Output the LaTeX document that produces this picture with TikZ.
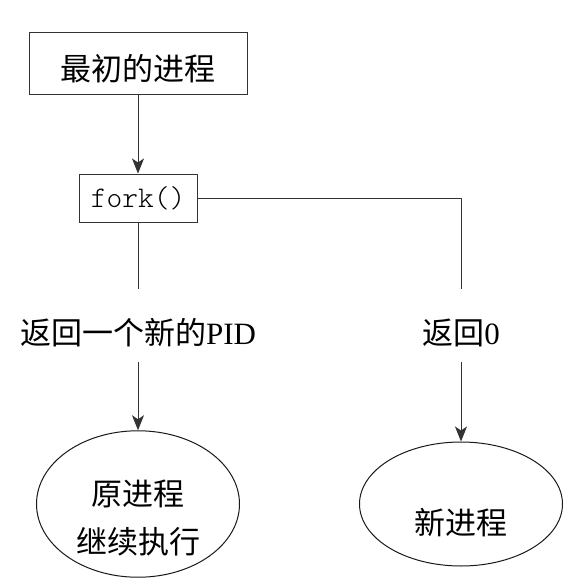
\documentclass[tikz,border=0pt]{standalone}
\usepackage{fontspec}
\setmainfont{Liberation Serif}
\newfontfamily\cjk{Noto Sans CJK SC}
\newfontfamily\codefont{Latin Modern Mono Light}
\usetikzlibrary{shapes, arrows.meta, positioning}

\begin{document}
\begin{tikzpicture}[
        x=1pt, y=-1pt,
        line width=1pt,
        proc/.style={rectangle, draw=black!80, font=\fontsize{31}{48}\selectfont\cjk, minimum width=218pt, minimum height=62pt, text height=38pt},
        call/.style={rectangle, draw=black!80, font=\fontsize{30}{32}\selectfont\codefont, minimum width=118pt, minimum height=48pt, inner sep=0pt},
        ret/.style={font=\fontsize{31}{48}\selectfont, inner sep=0pt},
        child/.style={ellipse, draw=black!90, font=\fontsize{31}{48}\selectfont\cjk, align=center, minimum width=203pt, minimum height=124pt, inner sep=0pt},
        flow/.style={-{Stealth[length=15pt, width=12pt, inset=4pt]}, draw=black!80}
    ]
        \useasboundingbox (0,0) rectangle (580,587);

        % Processes
        \node[proc] (init) at (138, 63) {最初的进程};
        \node[call] (fork) at (138, 198) {fork()};

        % Return values
        \node[ret] (rpid) at (138, 333) {{\cjk 返回一个新的}PID};
        \node[ret] (rzero) at (461, 333) {{\cjk 返回}0};
        \coordinate (lend) at (138, 289);
        \coordinate (rend) at (461, 289);
        \coordinate (lstart) at (138, 362);
        \coordinate (rstart) at (461, 362);

        % Children
        \node[child, text height=101pt] (parent) at (138, 504) {原进程\\继续执行};
        \node[child, text height=63pt] (newp) at (461, 504) {新进程};

        % Arrows
        \draw[flow] (init) -- (fork);
        \draw[draw=black!80] (fork) -- (lend);
        \draw[draw=black!80] (fork) -| (rend);
        \draw[flow] (lstart) -- (parent);
        \draw[flow] (rstart) -- (newp);
    \end{tikzpicture}
\end{document}
